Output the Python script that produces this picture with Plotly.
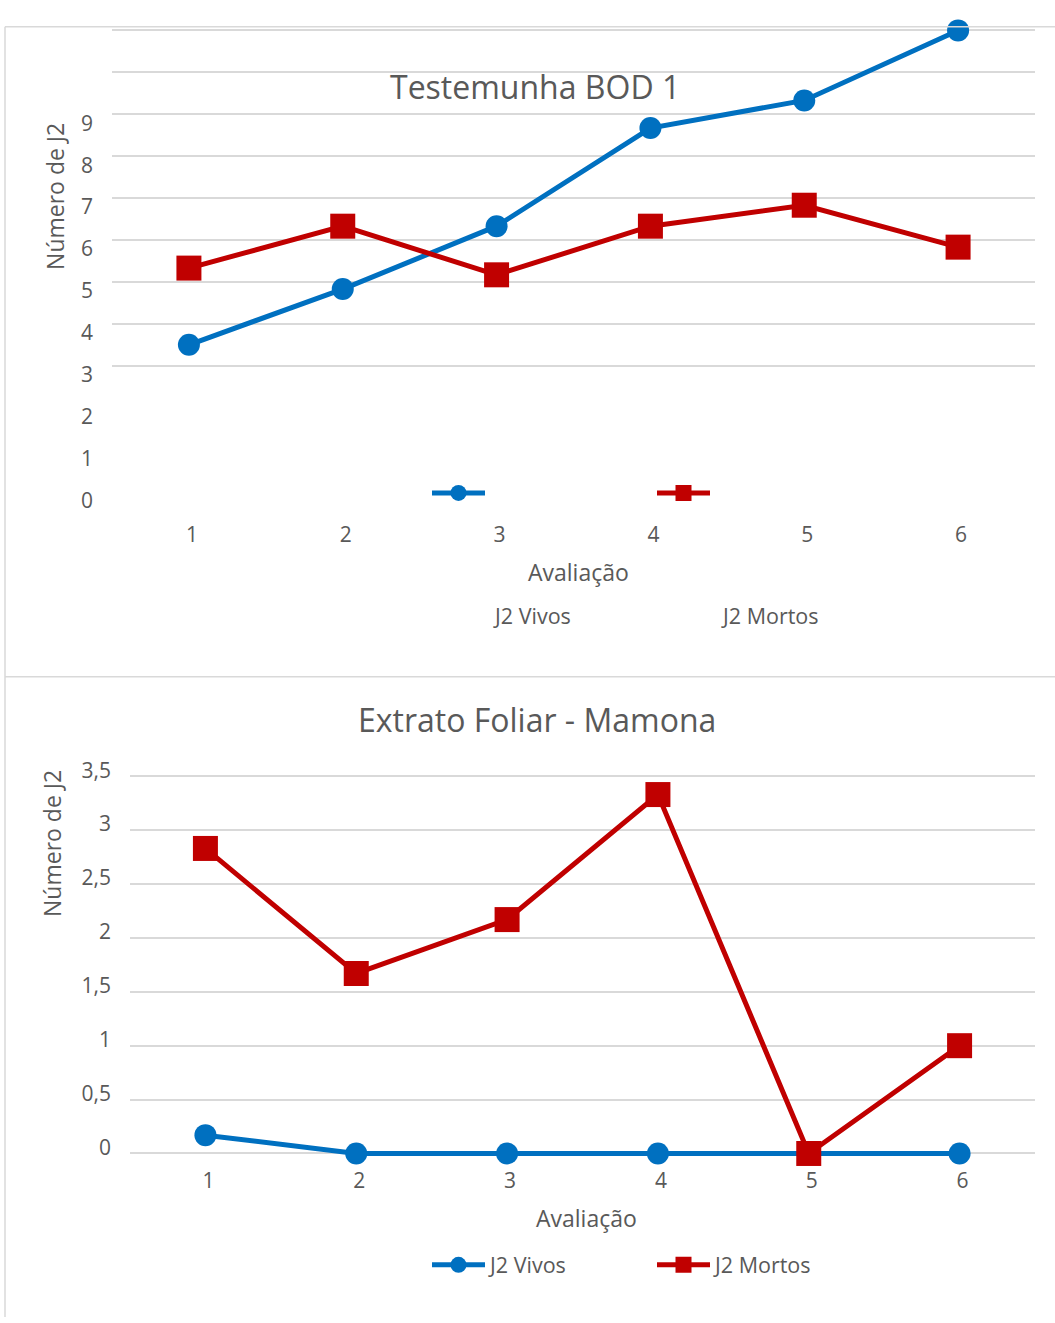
import plotly.graph_objects as go

# Avaliações (x categories)
avaliacoes = [1, 2, 3, 4, 5, 6]
x_tick_text = ["1", "2", "3", "4", "5", "6"]

# Testemunha BOD 1 – mean number of J2 per evaluation
bod_vivos = [3.5, 4.83, 6.33, 8.67, 9.33, 11.0]
bod_mortos = [5.33, 6.33, 5.17, 6.33, 6.83, 5.83]
bod_grid_vals = [3, 4, 5, 6, 7, 8, 9, 10, 11]
bod_label_vals = [0, 1, 2, 3, 4, 5, 6, 7, 8, 9]

# Extrato Foliar - Mamona – mean number of J2 per evaluation
mamona_vivos = [0.17, 0, 0, 0, 0, 0]
mamona_mortos = [2.83, 1.67, 2.17, 3.33, 0, 1.0]
mamona_tick_vals = [0, 0.5, 1, 1.5, 2, 2.5, 3, 3.5]
mamona_tick_text = ["0", "0,5", "1", "1,5", "2", "2,5", "3", "3,5"]

series_names = ["J2 Vivos", "J2 Mortos"]

W, H = 1055, 1323
BLUE = "#0070C0"
RED = "#C00000"
GRID = "#D9D9D9"
TEXT = "#595959"
FONT = "Open Sans"


def px(x):
    return x / W


def py(y):
    return 1 - y / H


fig = go.Figure()

# ---- top chart: Testemunha BOD 1 ----
fig.add_trace(go.Scatter(
    x=avaliacoes, y=bod_vivos, mode="lines+markers", name="",
    line=dict(color=BLUE, width=5), marker=dict(symbol="circle", size=22, color=BLUE),
    xaxis="x", yaxis="y", legend="legend2", cliponaxis=False, hoverinfo="x+y",
))
fig.add_trace(go.Scatter(
    x=avaliacoes, y=bod_mortos, mode="lines+markers", name=" ",
    line=dict(color=RED, width=5), marker=dict(symbol="square", size=25, color=RED),
    xaxis="x", yaxis="y", legend="legend2", cliponaxis=False, hoverinfo="x+y",
))

# ---- bottom chart: Extrato Foliar - Mamona ----
fig.add_trace(go.Scatter(
    x=avaliacoes, y=mamona_vivos, mode="lines+markers", name=series_names[0],
    line=dict(color=BLUE, width=5), marker=dict(symbol="circle", size=22, color=BLUE),
    xaxis="x2", yaxis="y2", legend="legend", cliponaxis=False,
))
fig.add_trace(go.Scatter(
    x=avaliacoes, y=mamona_mortos, mode="lines+markers", name=series_names[1],
    line=dict(color=RED, width=5), marker=dict(symbol="square", size=25, color=RED),
    xaxis="x2", yaxis="y2", legend="legend", cliponaxis=False,
))

tick_font = dict(family=FONT, size=21, color=TEXT)
legend_font = dict(family=FONT, size=21.5, color=TEXT)
axis_title_font = dict(family=FONT, size=23, color=TEXT)
title_font = dict(family=FONT, size=32, color=TEXT)

common_x = dict(
    range=[0.5, 6.5], tickmode="array", tickvals=avaliacoes, ticktext=x_tick_text,
    showgrid=False, zeroline=False, showline=False, ticks="",
    tickfont=tick_font, ticklabelshift=3, fixedrange=True,
)

legend_common = dict(
    orientation="h", xanchor="left", yanchor="middle",
    bgcolor="rgba(0,0,0,0)", itemwidth=53, entrywidth=157, entrywidthmode="pixels",
    font=legend_font, itemclick=False, itemdoubleclick=False,
)

fig.update_layout(
    width=W, height=H,
    margin=dict(l=0, r=0, t=0, b=0),
    paper_bgcolor="white", plot_bgcolor="white",
    font=dict(family=FONT, color=TEXT),
    xaxis=dict(domain=[px(112), px(1035)], anchor="y", ticklabelstandoff=12, **common_x),
    # BOD chart: gridlines on the minor ticks, value labels on the major ticks
    yaxis=dict(
        domain=[py(500), py(12)], anchor="x", range=[-0.385, 11.062],
        tickmode="array", tickvals=bod_label_vals, ticktext=[str(v) for v in bod_label_vals],
        showgrid=False, zeroline=False, showline=False, ticks="",
        tickfont=tick_font, ticklabelstandoff=18, ticklabelshift=9, fixedrange=True,
        minor=dict(tickmode="array", tickvals=bod_grid_vals, showgrid=True,
                   gridcolor=GRID, gridwidth=1.5, ticks=""),
    ),
    xaxis2=dict(domain=[px(130), px(1035)], anchor="y2", ticklabelstandoff=8, **common_x),
    yaxis2=dict(
        domain=[py(1161), py(768)], anchor="x2", range=[-0.0392, 3.5465],
        tickmode="array", tickvals=mamona_tick_vals, ticktext=mamona_tick_text,
        showgrid=True, gridcolor=GRID, gridwidth=1.5, zeroline=False, showline=False,
        ticks="", tickfont=tick_font, ticklabelstandoff=18, ticklabelshift=-6,
        fixedrange=True,
    ),
    legend=dict(x=px(427), y=py(1270), **legend_common),
    legend2=dict(x=px(427), y=py(485), **legend_common),
    showlegend=True,
)

annotations = [
    dict(text="Testemunha BOD 1", x=px(535), y=py(72), font=title_font),
    dict(text="Extrato Foliar - Mamona", x=px(537), y=py(715), font=title_font),
    dict(text="Avaliação", x=px(578), y=py(565), font=axis_title_font),
    dict(text="Avaliação", x=px(586), y=py(1222), font=axis_title_font),
    dict(text="Número de J2", x=px(55), y=py(184), font=axis_title_font, textangle=-90),
    dict(text="Número de J2", x=px(52), y=py(842), font=axis_title_font, textangle=-90),
    dict(text=series_names[0], x=px(491), y=py(610), xanchor="left", font=legend_font),
    dict(text=series_names[1], x=px(719), y=py(610), xanchor="left", font=legend_font),
]
for a in annotations:
    a.setdefault("xanchor", "center")
    a.update(xref="paper", yref="paper", yanchor="middle", showarrow=False)
fig.update_layout(annotations=annotations)

# chart area borders (kept inside the paper)
frame = dict(color=GRID, width=1.5)
fig.update_layout(shapes=[
    dict(type="line", xref="paper", yref="paper", x0=px(5), x1=1, y0=py(11), y1=py(11), line=frame),
    dict(type="line", xref="paper", yref="paper", x0=px(5), x1=1, y0=py(672), y1=py(672), line=frame),
    dict(type="line", xref="paper", yref="paper", x0=px(5), x1=px(5), y0=py(11), y1=0, line=frame),
])

fig.write_html(
    "out.html",
    config=dict(displayModeBar=False),
    post_script="document.body.style.margin='0';document.body.style.overflow='hidden';",
)
